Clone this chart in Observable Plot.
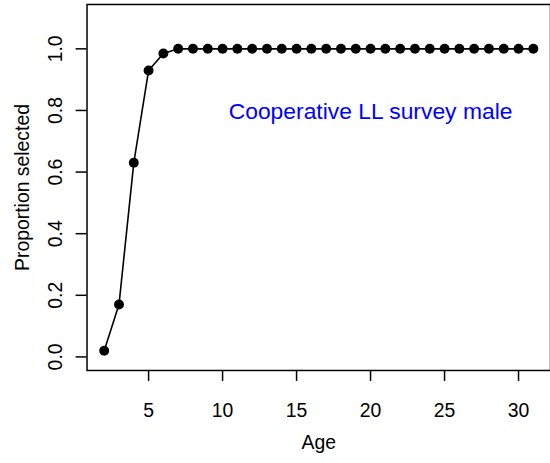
<!DOCTYPE html>
<html>
<head>
<meta charset="utf-8">
<script src="https://cdn.jsdelivr.net/npm/d3@7"></script>
<script src="https://cdn.jsdelivr.net/npm/@observablehq/plot@0.6"></script>
<style>
  html, body { margin: 0; padding: 0; overflow: hidden; background: #fff; }
  svg { display: block; }
</style>
</head>
<body>
<div id="chart"></div>
<script>
const ages = [2, 3, 4, 5, 6, 7, 8, 9, 10, 11, 12, 13, 14, 15, 16, 17, 18, 19, 20, 21, 22, 23, 24, 25, 26, 27, 28, 29, 30, 31];
const proportions = [0.02, 0.17, 0.63, 0.93, 0.985, 1, 1, 1, 1, 1, 1, 1, 1, 1, 1, 1, 1, 1, 1, 1, 1, 1, 1, 1, 1, 1, 1, 1, 1, 1];
const xTicks = [5, 10, 15, 20, 25, 30];
const yTicks = [0, 0.2, 0.4, 0.6, 0.8, 1.0];
const yTickLabels = ["0.0", "0.2", "0.4", "0.6", "0.8", "1.0"];
const xLabel = "Age";
const yLabel = "Proportion selected";
const annotation = [{x: 20, y: 0.8, text: "Cooperative LL survey male"}];

const data = ages.map((a, i) => ({age: a, p: proportions[i]}));
const yTickData = yTicks.map((v, i) => ({v, label: yTickLabels[i]}));

const font = "Liberation Sans, Arial, Helvetica, sans-serif";
const fs = 19.5;

const chart = Plot.plot({
  width: 553,
  height: 463,
  marginLeft: 87,
  marginRight: 0,
  marginTop: 4,
  marginBottom: 91,
  style: {fontFamily: font, background: "#fff", color: "#000"},
  x: {domain: [0.84, 32.16]},
  y: {domain: [-0.044, 1.144]},
  marks: [
    Plot.frame({stroke: "#000", strokeWidth: 1.5}),
    Plot.axisX({ticks: xTicks, tickSize: 11, tickFormat: () => "", label: null, strokeWidth: 1.5}),
    Plot.axisY({ticks: yTicks, tickSize: 11, tickFormat: () => "", label: null, strokeWidth: 1.5}),
    Plot.text(xTicks, {x: d => d, frameAnchor: "bottom", textAnchor: "middle", lineAnchor: "middle", dy: (419 - 0.32 * fs) - 372, text: d => String(d), fontSize: fs, fill: "#000"}),
    Plot.text(yTickData, {y: "v", frameAnchor: "left", textAnchor: "middle", lineAnchor: "middle", dx: (62 - 0.32 * fs) - 87, rotate: -90, text: "label", fontSize: fs, fill: "#000"}),
    Plot.text([xLabel], {frameAnchor: "bottom", textAnchor: "middle", lineAnchor: "middle", dy: (451 - 0.32 * fs) - 372, text: d => d, fontSize: fs, fill: "#000"}),
    Plot.text([yLabel], {frameAnchor: "left", textAnchor: "middle", lineAnchor: "middle", dx: (28.5 - 0.32 * fs) - 87, rotate: -90, text: d => d, fontSize: fs, fill: "#000"}),
    Plot.line(data, {x: "age", y: "p", stroke: "#000", strokeWidth: 1.6}),
    Plot.dot(data, {x: "age", y: "p", r: 5, fill: "#000", stroke: "none"}),
    Plot.text(annotation, {x: "x", y: "y", text: "text", textAnchor: "middle", lineAnchor: "middle", fontSize: 23, fill: "#0000ff", dy: 1.5})
  ]
});
document.getElementById("chart").append(chart);
</script>
</body>
</html>
